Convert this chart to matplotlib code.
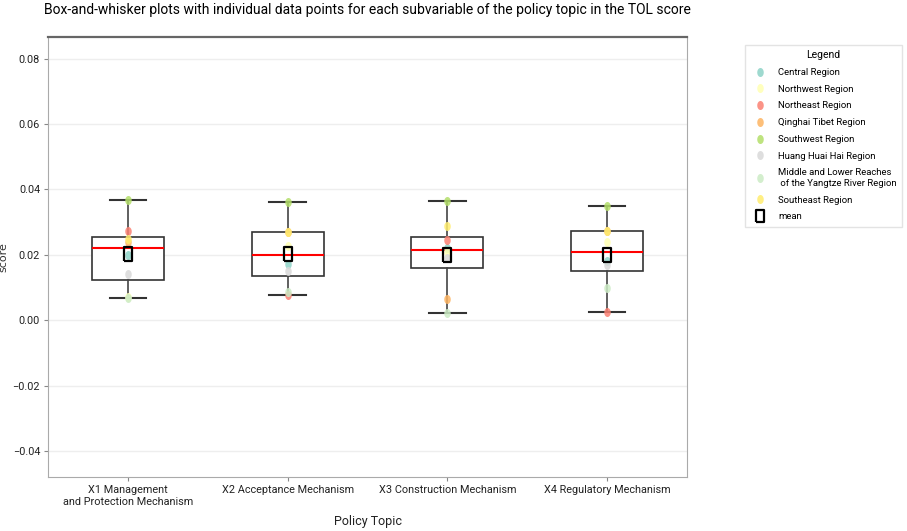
import matplotlib
matplotlib.use("Agg")
import matplotlib.pyplot as plt
from matplotlib.lines import Line2D
import numpy as np

# score of each region for the four subvariables (X1..X4)
topics = ["X1 Management\nand Protection Mechanism", "X2 Acceptance Mechanism",
          "X3 Construction Mechanism", "X4 Regulatory Mechanism"]
regions = ["Central Region", "Northwest Region", "Northeast Region", "Qinghai Tibet Region",
           "Southwest Region", "Huang Huai Hai Region",
           "Middle and Lower Reaches\n of the Yangtze River Region", "Southeast Region"]
central = [0.0200, 0.0173, 0.0221, 0.0181]
northwest = [0.0072, 0.0228, 0.0209, 0.0239]
northeast = [0.0274, 0.0076, 0.0244, 0.0025]
qinghai_tibet = [0.0240, 0.0271, 0.0066, 0.0272]
southwest = [0.0368, 0.0363, 0.0366, 0.0349]
huang_huai_hai = [0.0142, 0.0152, 0.0191, 0.0170]
yangtze = [0.0069, 0.0086, 0.0022, 0.0098]
southeast = [0.0249, 0.0270, 0.0287, 0.0272]
region_colors = ["#8dd3c7", "#ffffb3", "#fb8072", "#fdb462",
                 "#b3de69", "#d9d9d9", "#ccebc5", "#ffed6f"]

scores = np.array([central, northwest, northeast, qinghai_tibet,
                   southwest, huang_huai_hai, yangtze, southeast])

plt.rcParams['font.family'] = ['Roboto', 'DejaVu Sans']

# the original picture is a little squashed sideways, so markers are taller than wide
t = np.linspace(0, 2 * np.pi, 40)
dot = list(zip(0.72 * np.cos(t), np.sin(t)))
rect = [(-0.62, -1), (0.62, -1), (0.62, 1), (-0.62, 1), (-0.62, -1)]

fig = plt.figure(figsize=(9.07, 5.31), dpi=100)
ax = fig.add_axes([0.0533, 0.1023, 0.7038, 0.8286])

pos = np.arange(len(topics))
ax.boxplot(scores, positions=pos, widths=0.45, whis=(0, 100), showfliers=False,
           capwidths=0.23, patch_artist=True,
           boxprops=dict(facecolor="white", edgecolor="#333333", linewidth=1.2),
           medianprops=dict(color="red", linewidth=1.5),
           whiskerprops=dict(color="#444444", linewidth=1.2),
           capprops=dict(color="#333333", linewidth=1.5), zorder=2)

for i in range(len(regions)):
    ax.plot(pos, scores[i], linestyle="none", marker=dot, markersize=6.5,
            color=region_colors[i], alpha=0.85, markeredgewidth=0, zorder=3)

means = scores.mean(axis=0)
ax.plot(pos, means, linestyle="none", marker=rect, markersize=10,
        markerfacecolor="none", markeredgecolor="black", markeredgewidth=1.6, zorder=4)

ax.set_xlim(-0.5, 3.5)
ax.set_ylim(-0.0478, 0.0867)
ax.set_yticks([-0.04, -0.02, 0.0, 0.02, 0.04, 0.06, 0.08])
ax.set_yticklabels(["\u22120.04", "\u22120.02", "0.00", "0.02", "0.04", "0.06", "0.08"])
ax.set_xticks(pos)
ax.set_xticklabels(topics)
ax.tick_params(labelsize=7.8, colors="#222222", length=3, width=0.8, pad=3)
ax.tick_params(axis="both", color="#888888")
ax.yaxis.grid(True, color="#eeeeee", linewidth=1)
ax.set_axisbelow(True)
for side in ["left", "right", "bottom"]:
    ax.spines[side].set_color("#aaaaaa")
ax.spines["top"].set_color("#666666")
ax.spines["top"].set_linewidth(1.6)

ax.set_xlabel("Policy Topic", fontsize=9, color="#222222", labelpad=6)
ax.set_ylabel("score", fontsize=8, color="#333333", family="DejaVu Sans")
ax.yaxis.set_label_coords(-0.062, 0.5)
ax.set_title("Box-and-whisker plots with individual data points for each subvariable "
             "of the policy topic in the TOL score", fontsize=10, pad=16)

handles = [Line2D([], [], linestyle="none", marker=dot, markersize=6.5, color=c,
                  alpha=0.85, markeredgewidth=0) for c in region_colors]
handles.append(Line2D([], [], linestyle="none", marker=rect, markersize=9,
                      markerfacecolor="none", markeredgecolor="black", markeredgewidth=1.6))
labels = regions + ["mean"]
fig.legend(handles, labels, title="Legend", loc="upper left",
           bbox_to_anchor=(0.816, 0.925), fontsize=6.8, title_fontsize=7.5,
           frameon=True, edgecolor="#dddddd", handletextpad=0.9, labelspacing=0.82,
           borderpad=0.6, fancybox=False)

fig.savefig("out.png", dpi=100)
